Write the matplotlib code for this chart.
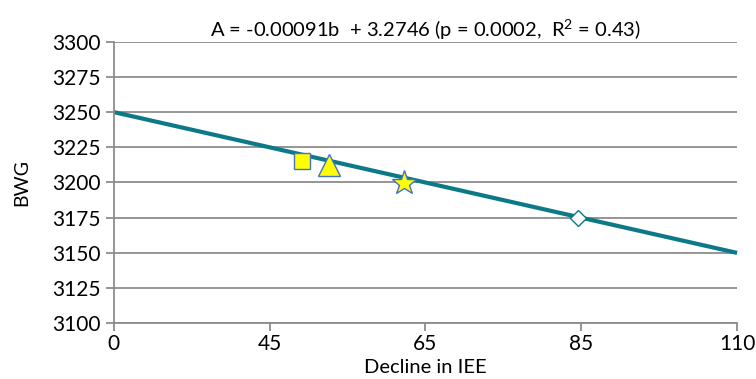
"""BWG vs decline in IEE: fitted line with four marked groups."""

import matplotlib.pyplot as plt

plt.rcParams["font.family"] = ["Lato", "DejaVu Sans"]
plt.rcParams["mathtext.fontset"] = "custom"
plt.rcParams["mathtext.rm"] = "Lato"

# x axis is categorical-looking: five equally spaced slots
tick_pos = [0, 1, 2, 3, 4]
tick_labels = ["0", "45", "65", "85", "110"]

# fitted line, ends of the axis
fit_x = [0, 4]
fit_y = [3250, 3150]

# group points (slot position, BWG)
pt_x = [1.21, 1.38, 1.86, 2.98]
pt_y = [3215.5, 3212.3, 3199.4, 3175.0]

title = r"A = -0.00091b  + 3.2746 (p = 0.0002,  R$^{\mathrm{2}}$ = 0.43)"

teal = "#0b7a86"
grid_gray = "#8c8c8c"
edge_blue = "#4472c4"

fig = plt.figure(figsize=(7.56, 3.79), dpi=100)
ax = fig.add_axes([0.1504, 0.147, 0.8245, 0.743])

ax.set_xlim(0, 4)
ax.set_ylim(3100, 3300)
ax.set_yticks(range(3100, 3301, 25))
ax.set_xticks(tick_pos)
ax.set_xticklabels(tick_labels)
ax.yaxis.grid(True, color=grid_gray, linewidth=1.3)
ax.set_axisbelow(True)

for side in ("top", "right"):
    ax.spines[side].set_visible(False)
for side in ("left", "bottom"):
    ax.spines[side].set_color(grid_gray)
    ax.spines[side].set_linewidth(1.3)
ax.tick_params(axis="both", colors=grid_gray, width=1.3, length=6,
               labelsize=15, labelcolor="black")
ax.tick_params(axis="x", pad=2)

ax.plot(fit_x, fit_y, color=teal, linewidth=3, solid_capstyle="butt",
        zorder=2, clip_on=False)

styles = [
    dict(marker="s", ms=11.5, mfc="#ffff00", mec=edge_blue),
    dict(marker="^", ms=16, mfc="#ffff00", mec=edge_blue),
    dict(marker="*", ms=18.5, mfc="#ffff00", mec=edge_blue),
    dict(marker="D", ms=8.5, mfc="white", mec=teal),
]
for x, y, st in zip(pt_x, pt_y, styles):
    ax.plot([x], [y], linestyle="none", mew=1.0, zorder=3, **st)

ax.set_title(title, fontsize=14.5, pad=2)
ax.set_xlabel("Decline in IEE", fontsize=14.5, labelpad=3)
ax.set_ylabel("BWG", fontsize=14, labelpad=16)

fig.savefig("out.png", dpi=100)
